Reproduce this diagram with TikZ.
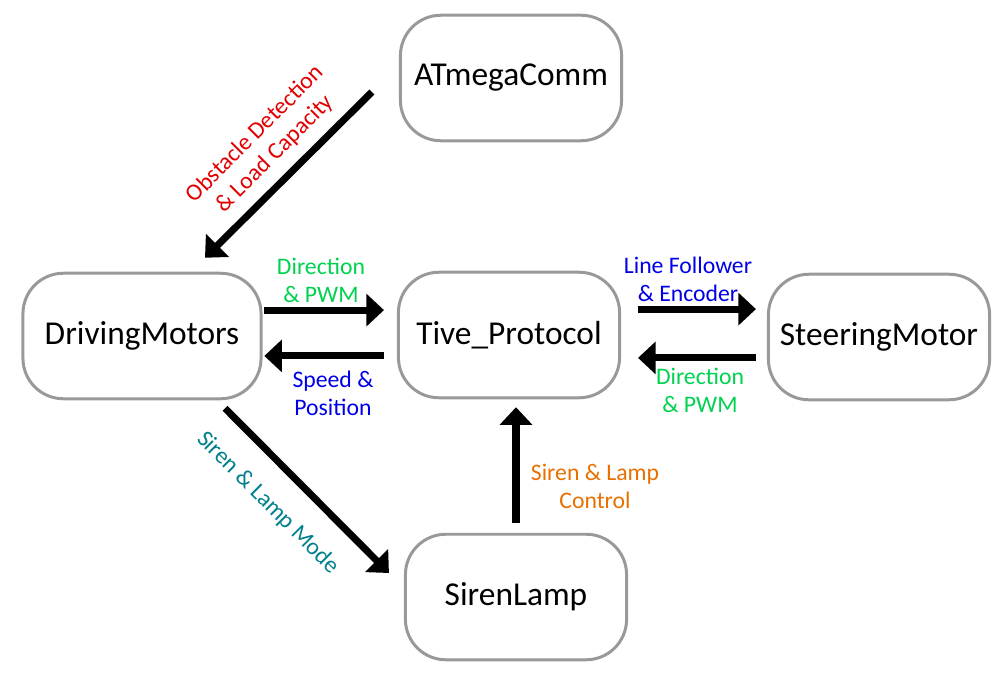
\documentclass[tikz,border=0pt]{standalone}
\usepackage{fontspec}
\setmainfont{Carlito}
\usetikzlibrary{arrows.meta,calc}
\definecolor{lblred}{RGB}{225,0,0}
\definecolor{lblgreen}{RGB}{0,210,80}
\definecolor{lblblue}{RGB}{0,0,230}
\definecolor{lblteal}{RGB}{0,128,140}
\definecolor{lblorange}{RGB}{232,112,0}
\tikzset{
  box/.style={draw=gray!80, line width=1.7pt, rounded corners=23pt, fill=white,
    minimum width=222*0.567pt, minimum height=126*0.567pt, font=\fontsize{19}{22}\selectfont},
  arr/.style={line width=4pt, -{Triangle[length=10pt,width=18pt]}},
  lbl/.style={align=center, font=\fontsize{13.5}{16}\selectfont}
}
\begin{document}
\begin{tikzpicture}[x=0.02cm, y=-0.02cm]
\useasboundingbox (0,0) rectangle (1000,679);

\node[box] (at) at (511,78) {ATmegaComm};
\node[box, minimum width=239*0.567pt] (dm) at (142,336) {DrivingMotors};
\node[box] (tp) at (509,335) {Tive\_Protocol};
\node[box] (sm) at (879,337) {SteeringMotor};
\node[box] (sl) at (516,597) {SirenLamp};

\draw[arr] ($(at.west)+(-27,14)$) -- ($(dm.north)+(63,-14)$);
\draw[arr, shorten <=1pt, shorten >=13*0.567pt] ([yshift=26*0.567pt]dm.east) -- ([yshift=26*0.567pt]dm.east -| tp.west);
\draw[arr, shorten <=13*0.567pt, shorten >=1pt] ([yshift=-21*0.567pt]tp.west) -- ([yshift=-21*0.567pt]tp.west -| dm.east);
\draw[arr, shorten <=17*0.567pt, shorten >=11*0.567pt] ([yshift=26*0.567pt]tp.east) -- ([yshift=26*0.567pt]tp.east -| sm.west);
\draw[arr, shorten <=11*0.567pt, shorten >=17*0.567pt] ([yshift=-21*0.567pt]sm.west) -- ([yshift=-21*0.567pt]sm.west -| tp.east);
\draw[arr] ($(dm.south)+(83,8)$) -- ($(sl.west)+(-15,-24)$);
\draw[arr, shorten <=10*0.567pt, shorten >=8*0.567pt] (sl.north) -- (sl.north |- tp.south);

\node[lbl, text=lblred, rotate=45] (obst) at (265,144) {Obstacle Detection\\\& Load Capacity};
\node[lbl, text=lblgreen] (dirpwm1) at (321,280) {Direction\\\& PWM};
\node[lbl, text=lblblue] (speed) at (333,393) {Speed \&\\Position};
\node[lbl, text=lblblue] (line) at (688,279) {Line Follower\\\& Encoder};
\node[lbl, text=lblgreen] (dirpwm2) at (700,390) {Direction\\\& PWM};
\node[lbl, text=lblteal, rotate=-45] (mode) at (268,503) {Siren \& Lamp Mode};
\node[lbl, text=lblorange] (ctrl) at (595,486) {Siren \& Lamp\\Control};
\end{tikzpicture}
\end{document}
